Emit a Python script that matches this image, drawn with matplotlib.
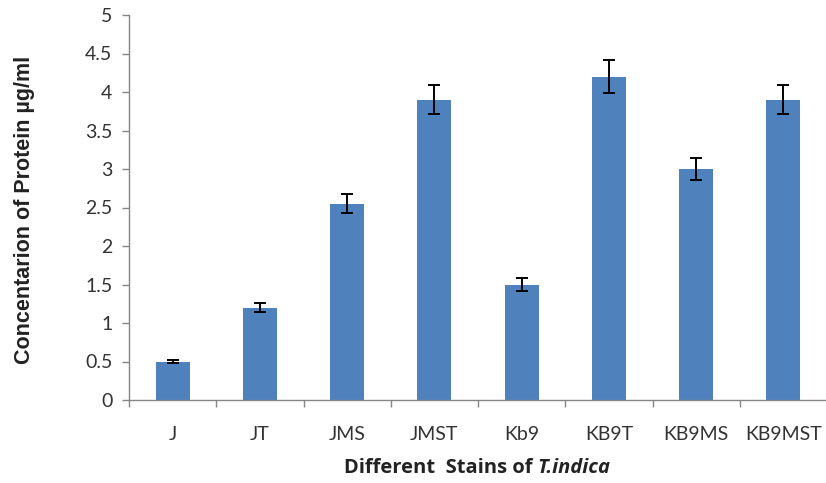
import matplotlib
matplotlib.use("Agg")
import matplotlib.pyplot as plt
import numpy as np

strains = ["J", "JT", "JMS", "JMST", "Kb9", "KB9T", "KB9MS", "KB9MST"]
protein = [0.5, 1.2, 2.55, 3.9, 1.5, 4.2, 3.0, 3.9]
errors = [0.02, 0.06, 0.12, 0.19, 0.08, 0.21, 0.14, 0.19]
y_ticks = [0, 0.5, 1, 1.5, 2, 2.5, 3, 3.5, 4, 4.5, 5]
y_tick_labels = ["0", "0.5", "1", "1.5", "2", "2.5", "3", "3.5", "4", "4.5", "5"]

plt.rcParams["font.family"] = ["Lato", "DejaVu Sans"]

W, H = 826, 483
fig = plt.figure(figsize=(W / 100, H / 100), dpi=100)
ax = fig.add_axes([129 / W, 1 - 400 / H, 698 / W, 385 / H])

x = np.arange(len(strains))
ax.bar(x, protein, width=0.39, color="#4F81BD", zorder=2)
ax.errorbar(x, protein, yerr=errors, fmt="none", ecolor="black",
            elinewidth=1.4, capsize=4, capthick=1.4, zorder=3)

ax.set_xlim(-0.5, len(strains) - 0.5)
ax.set_ylim(0, 5)
ax.set_yticks(y_ticks)
ax.set_yticklabels(y_tick_labels)
ax.set_xticks(x)
ax.set_xticklabels(strains)
ax.set_xticks(np.arange(len(strains) + 1) - 0.5, minor=True)

axis_gray = "#868686"
for side in ("top", "right"):
    ax.spines[side].set_visible(False)
for side in ("left", "bottom"):
    ax.spines[side].set_color(axis_gray)
    ax.spines[side].set_linewidth(1.0)

ax.tick_params(axis="y", direction="out", length=5, width=1.0, color=axis_gray,
               labelsize=14, labelcolor="#333333", pad=7)
ax.tick_params(axis="x", which="major", length=0, labelsize=14,
               labelcolor="#333333", pad=19)
ax.tick_params(axis="x", which="minor", direction="out", length=5, width=1.0,
               color=axis_gray)

fig.text(25 / W, 1 - 210 / H, "Concentarion of Protein µg/ml", rotation=90,
         ha="center", va="center", fontsize=15.5, fontweight="bold",
         family=["Liberation Sans", "DejaVu Sans"], color="#222222")

# x-axis title with italic species name, centred as a whole
title_font = dict(fontsize=14.5, fontweight="bold", color="#222222",
                  family=["Open Sans", "DejaVu Sans"])
t1 = fig.text(0, 1 - 468 / H, "Different  Stains of ", ha="left", va="center",
              **title_font)
t2 = fig.text(0, 1 - 468 / H, "T.indica", ha="left", va="center",
              style="italic", **title_font)
fig.canvas.draw()
r = fig.canvas.get_renderer()
w1 = t1.get_window_extent(r).width
w2 = t2.get_window_extent(r).width
left = 477 - (w1 + w2) / 2
t1.set_x(left / W)
t2.set_x((left + w1) / W)

fig.savefig("out.png", dpi=100, facecolor="white")
